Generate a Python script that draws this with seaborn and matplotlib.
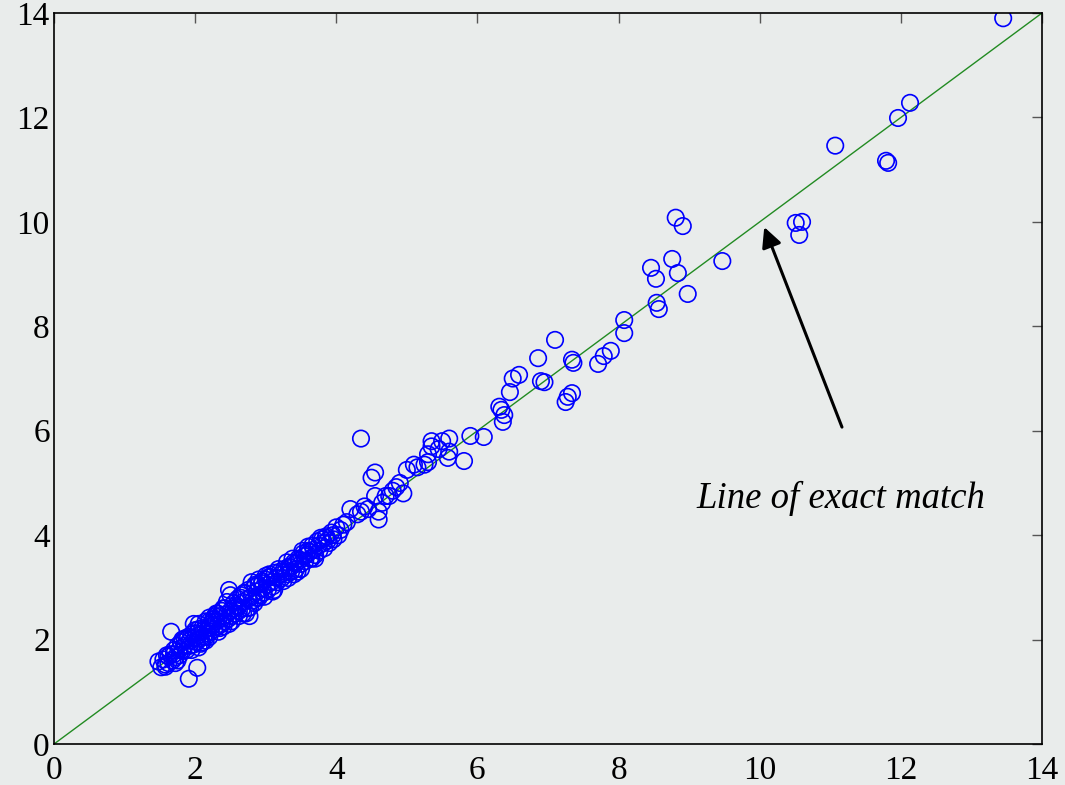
import matplotlib
matplotlib.use("Agg")
import matplotlib.pyplot as plt
import seaborn as sns
import pandas as pd

# Dense cluster at the low end (predicted vs measured)
x_low = [1.48, 1.52, 1.55, 1.58, 1.60, 1.62, 1.65, 1.68, 1.70, 1.72, 1.75, 1.78, 1.80, 1.82,
         1.85, 1.88, 1.90, 1.92, 1.95, 1.97, 2.00, 2.02, 2.05, 2.07, 2.10, 2.12, 2.15, 2.17,
         2.20, 2.22, 2.25, 2.27, 2.30, 2.32, 2.35, 2.37, 2.40, 2.42, 2.45, 2.47, 2.50, 2.52,
         2.55, 2.57, 2.60, 2.62, 2.65, 2.67, 2.70, 2.72, 2.75, 2.77, 2.80, 2.82, 2.85, 2.87,
         2.90, 2.92, 2.95, 2.97, 3.00, 3.03, 3.06, 3.10, 3.13, 3.16, 3.20, 3.23, 3.26, 3.30,
         3.33, 3.36, 3.40, 3.43, 3.46, 3.50, 3.53, 3.56, 3.60, 3.63, 3.66, 3.70, 3.73, 3.76,
         3.80, 3.83, 3.86, 3.90, 3.93, 3.96, 4.00, 4.03, 4.06,
         1.62, 1.70, 1.78, 1.85, 1.92, 2.00, 2.05, 2.12, 2.18, 2.25, 2.30, 2.38, 2.45, 2.50,
         2.55, 2.60, 2.68, 2.75, 2.80, 2.88, 2.95, 3.02, 3.08, 3.15, 3.22, 3.28, 3.35, 3.42,
         3.48, 3.55, 3.62, 3.68, 3.75, 3.82, 3.88, 3.95, 2.15, 2.35, 2.58, 2.90, 3.25, 3.58,
         3.65, 1.58, 2.02, 2.22, 1.66, 1.91, 2.03, 2.48,
         1.75, 1.82, 1.95, 2.05, 2.10, 2.20, 2.28, 2.33, 2.42, 2.52, 2.62, 2.70, 2.78, 2.85,
         2.98, 3.05, 3.12, 3.18, 3.32, 3.38, 3.45, 3.52, 3.70, 3.78, 1.88, 2.08, 2.27, 2.40,
         2.65, 2.84, 3.00, 3.40, 3.60, 3.85, 4.10, 2.95, 2.20, 1.98,
         1.72, 1.98, 2.15, 2.32, 2.48, 2.68, 2.90, 3.10, 3.30, 3.50, 2.05, 2.38, 2.75, 3.05]
y_low = [1.58, 1.47, 1.62, 1.52, 1.70, 1.55, 1.72, 1.60, 1.80, 1.66, 1.88, 1.70, 1.95, 1.78,
         2.02, 1.80, 2.05, 1.88, 2.10, 1.90, 2.18, 1.95, 2.30, 2.02, 2.22, 2.05, 2.35, 2.12,
         2.42, 2.15, 2.38, 2.20, 2.50, 2.25, 2.45, 2.30, 2.60, 2.35, 2.72, 2.40, 2.85, 2.45,
         2.70, 2.50, 2.78, 2.55, 2.80, 2.60, 2.88, 2.50, 2.95, 2.45, 3.10, 2.75, 3.05, 2.80,
         3.15, 2.85, 3.08, 2.90, 3.15, 2.95, 3.20, 3.02, 3.28, 3.10, 3.30, 3.18, 3.35, 3.25,
         3.40, 3.30, 3.48, 3.35, 3.55, 3.45, 3.65, 3.50, 3.78, 3.55, 3.80, 3.62, 3.88, 3.70,
         3.92, 3.75, 3.98, 3.85, 4.05, 3.92, 4.15, 4.00, 4.10,
         1.68, 1.72, 1.82, 1.88, 1.98, 2.03, 2.08, 2.18, 2.22, 2.28, 2.35, 2.40, 2.48, 2.55,
         2.60, 2.62, 2.72, 2.78, 2.82, 2.92, 2.98, 3.05, 3.10, 3.18, 3.25, 3.30, 3.38, 3.45,
         3.52, 3.60, 3.68, 3.72, 3.80, 3.85, 3.90, 4.00, 2.05, 2.22, 2.65, 2.80, 3.12, 3.62,
         3.55, 1.48, 2.12, 2.30, 2.15, 1.25, 1.46, 2.95,
         1.60, 2.00, 1.80, 2.20, 1.95, 2.05, 2.45, 2.15, 2.60, 2.35, 2.45, 2.90, 2.62, 3.02,
         2.82, 3.25, 2.95, 3.35, 3.18, 3.55, 3.30, 3.70, 3.55, 3.95, 2.00, 1.92, 2.40, 2.25,
         2.85, 2.70, 3.22, 3.25, 3.70, 3.95, 4.20, 3.12, 2.35, 2.12,
         1.55, 2.30, 1.98, 2.50, 2.30, 2.50, 3.05, 2.92, 3.48, 3.35, 1.85, 2.55, 2.60, 3.20]

# Middle range
x_mid = [4.15, 4.20, 4.30, 4.35, 4.40, 4.35, 4.55, 4.50, 4.55, 4.60, 4.60, 4.65, 4.70, 4.75,
         4.80, 4.85, 4.90, 5.00, 5.10, 5.25, 5.30, 5.30, 5.35, 5.35, 5.50, 5.60, 5.60, 5.58,
         5.81, 5.90, 6.09, 4.45, 4.95, 5.15, 5.45]
y_mid = [4.25, 4.50, 4.40, 4.45, 4.55, 5.85, 4.75, 5.10, 5.20, 4.45, 4.30, 4.62, 4.75, 4.75,
         4.85, 4.92, 5.00, 5.25, 5.35, 5.35, 5.40, 5.55, 5.70, 5.80, 5.80, 5.85, 5.60, 5.48,
         5.42, 5.90, 5.88, 4.50, 4.80, 5.30, 5.65]

# Upper range
x_high = [6.31, 6.34, 6.38, 6.36, 6.46, 6.50, 6.59, 6.86, 6.90, 6.95, 7.10, 7.25, 7.28, 7.34,
          7.34, 7.36, 7.71, 7.79, 7.89, 8.08, 8.08, 8.46, 8.53, 8.54, 8.57, 8.76, 8.81, 8.84,
          8.91, 8.98, 9.47, 10.51, 10.60, 10.56, 11.07, 11.79, 11.82, 11.96, 12.13, 13.45]
y_high = [6.46, 6.40, 6.30, 6.17, 6.74, 7.00, 7.07, 7.39, 6.95, 6.93, 7.74, 6.55, 6.65, 6.72,
          7.36, 7.30, 7.28, 7.43, 7.53, 7.87, 8.12, 9.12, 8.91, 8.45, 8.33, 9.29, 10.08, 9.02,
          9.92, 8.62, 9.25, 9.98, 10.00, 9.75, 11.46, 11.17, 11.13, 11.99, 12.28, 13.90]

# Line of exact match
line_x = [0, 14]
line_y = [0, 14]

ticks = [0, 2, 4, 6, 8, 10, 12, 14]

df = pd.DataFrame({"predicted": x_low + x_mid + x_high,
                   "measured": y_low + y_mid + y_high})
line_df = pd.DataFrame({"x": line_x, "y": line_y})

bg = "#e9eceb"
sns.set_style("white")
plt.rcParams["font.family"] = ["Liberation Serif", "DejaVu Serif"]

fig = plt.figure(figsize=(10.65, 7.85), dpi=100, facecolor=bg)
ax = fig.add_axes([0.0507, 0.0522, 0.9277, 0.9312])
ax.set_facecolor(bg)

sns.lineplot(data=line_df, x="x", y="y", ax=ax, color="#228b22", linewidth=1.0, zorder=1)
sns.scatterplot(data=df, x="predicted", y="measured", ax=ax, marker="o", s=140,
                facecolors="none", edgecolor="#0000ff", linewidth=1.2, zorder=2)

ax.set_xlim(0, 14)
ax.set_ylim(0, 14)
ax.set_xticks(ticks)
ax.set_yticks(ticks)
ax.set_xlabel("")
ax.set_ylabel("")
ax.tick_params(direction="in", length=7, width=1, color="#555555", labelsize=24,
               labelcolor="black", top=True, right=True)
ax.tick_params(axis="x", pad=8)
ax.tick_params(axis="y", pad=3)
for sp in ax.spines.values():
    sp.set_color("black")
    sp.set_linewidth(1.2)

ax.annotate("", xy=(10.05, 9.95), xytext=(11.18, 6.02),
            arrowprops=dict(arrowstyle="-|>", color="black", lw=2.2, mutation_scale=30))
ax.text(9.1, 4.71, "Line of exact match", fontsize=26.5, style="italic",
        va="center", ha="left", color="black")

fig.savefig("out.png", dpi=100, facecolor=bg)
